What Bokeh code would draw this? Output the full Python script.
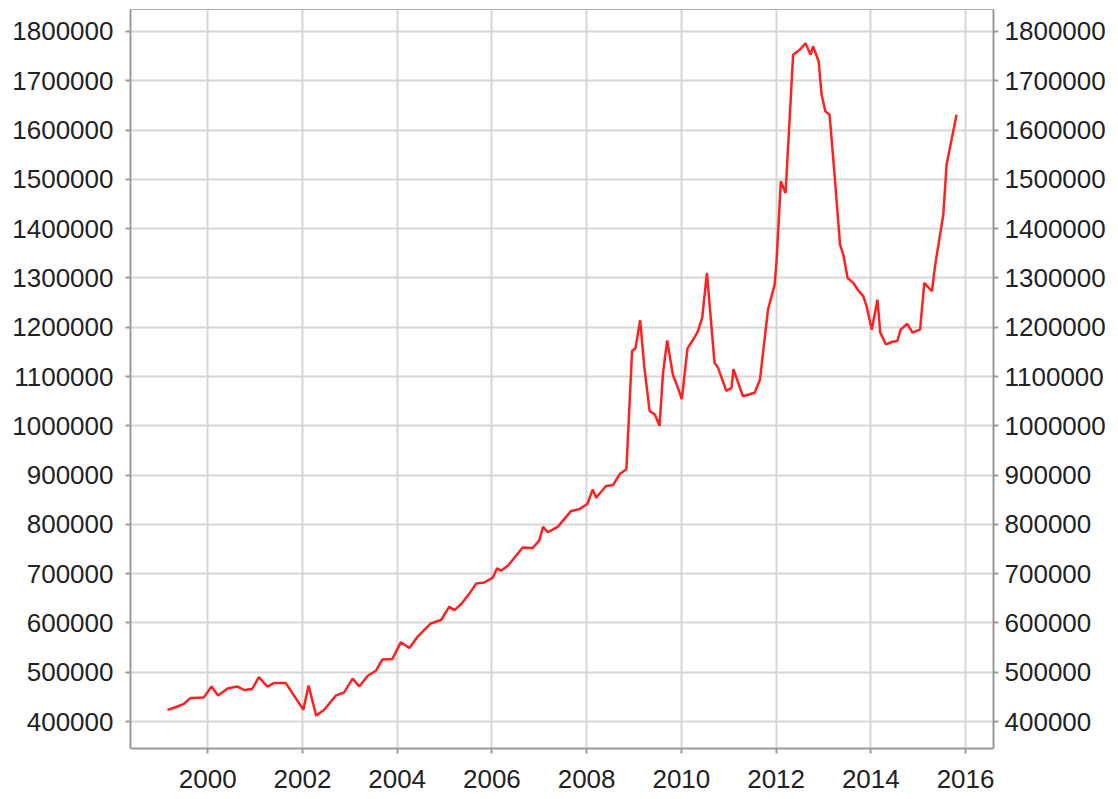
from bokeh.plotting import figure
from bokeh.models import Range1d, LinearAxis, FixedTicker, NumeralTickFormatter
from bokeh.embed import file_html
from bokeh.resources import INLINE

# decimal year of each visible vertex of the series
years = [1999.15, 1999.32, 1999.50, 1999.64, 1999.92, 2000.08, 2000.22, 2000.42, 2000.63, 2000.77,
         2000.94, 2001.08, 2001.26, 2001.40, 2001.65, 2002.02, 2002.13, 2002.29, 2002.46, 2002.71,
         2002.88, 2003.06, 2003.20, 2003.38, 2003.55, 2003.69, 2003.90, 2004.08, 2004.26, 2004.43,
         2004.71, 2004.93, 2005.10, 2005.21, 2005.35, 2005.52, 2005.67, 2005.84, 2006.02, 2006.11,
         2006.19, 2006.34, 2006.65, 2006.86, 2007.00, 2007.08, 2007.18, 2007.39, 2007.67, 2007.85,
         2008.02, 2008.13, 2008.20, 2008.41, 2008.56, 2008.70, 2008.84, 2008.96, 2009.03, 2009.13,
         2009.22, 2009.33, 2009.44, 2009.54, 2009.61, 2009.70, 2009.82, 2009.92, 2010.01, 2010.13,
         2010.25, 2010.35, 2010.44, 2010.54, 2010.70, 2010.77, 2010.95, 2011.06, 2011.10, 2011.30,
         2011.44, 2011.55, 2011.66, 2011.83, 2011.97, 2012.01, 2012.10, 2012.20, 2012.36, 2012.50,
         2012.62, 2012.73, 2012.78, 2012.90, 2012.96, 2013.04, 2013.13, 2013.24, 2013.35, 2013.42,
         2013.51, 2013.63, 2013.74, 2013.84, 2013.91, 2014.02, 2014.14, 2014.20, 2014.32, 2014.44,
         2014.56, 2014.63, 2014.77, 2014.88, 2015.04, 2015.13, 2015.29, 2015.36, 2015.53, 2015.60,
         2015.81]

values = [423700, 429000, 436000, 448000, 449000, 471000, 453000, 467000, 471000, 464000,
          466000, 490000, 471000, 478000, 478000, 424000, 473000, 412000, 424000, 453000,
          459000, 487000, 471000, 493000, 503000, 526000, 527000, 561000, 549000, 572000,
          599000, 606000, 633000, 626000, 638000, 659000, 680000, 682000, 692000, 711000,
          706000, 716000, 753000, 752000, 767000, 795000, 784000, 795000, 827000, 831000,
          842000, 871000, 854000, 878000, 880000, 902000, 912000, 1152000, 1157000, 1214000,
          1118000, 1030000, 1023000, 1000000, 1104000, 1173000, 1104000, 1079000, 1054000, 1157000,
          1175000, 1192000, 1219000, 1310000, 1128000, 1119000, 1071000, 1077000, 1115000, 1060000,
          1064000, 1067000, 1094000, 1236000, 1287000, 1334000, 1496000, 1472000, 1753000, 1763000,
          1776000, 1753000, 1770000, 1739000, 1672000, 1638000, 1631000, 1503000, 1368000, 1347000,
          1300000, 1290000, 1274000, 1263000, 1243000, 1195000, 1256000, 1189000, 1165000, 1170000,
          1172000, 1195000, 1207000, 1189000, 1195000, 1290000, 1273000, 1327000, 1428000, 1530000,
          1631000]

x_ticks = [2000, 2002, 2004, 2006, 2008, 2010, 2012, 2014, 2016]
y_ticks = [400000, 500000, 600000, 700000, 800000, 900000, 1000000, 1100000, 1200000,
           1300000, 1400000, 1500000, 1600000, 1700000, 1800000]

FONT = "Liberation Sans"
TEXT = "#222222"
AXIS = "#9a9a9a"

p = figure(frame_width=863, frame_height=739, output_backend="svg", toolbar_location=None,
           x_range=Range1d(1998.37, 2016.59), y_range=Range1d(345300, 1844600),
           min_border_left=130, min_border_right=116, min_border_top=9, min_border_bottom=48)
p.outline_line_color = "#b0b0b0"
p.outline_line_width = 1
p.background_fill_color = "white"
p.border_fill_color = "white"

p.xgrid.ticker = FixedTicker(ticks=x_ticks)
p.ygrid.ticker = FixedTicker(ticks=y_ticks)
p.xgrid.grid_line_color = "#d6d6d6"
p.ygrid.grid_line_color = "#d6d6d6"
p.xgrid.grid_line_width = 2
p.ygrid.grid_line_width = 2

p.line(years, values, line_color="#ff2020", line_width=2.5)

right = LinearAxis()
p.add_layout(right, "right")

for ax in p.yaxis:
    ax.ticker = FixedTicker(ticks=y_ticks)
    ax.formatter = NumeralTickFormatter(format="0")
for ax in p.xaxis:
    ax.ticker = FixedTicker(ticks=x_ticks)
    ax.formatter = NumeralTickFormatter(format="0")

for ax in list(p.xaxis) + list(p.yaxis):
    ax.axis_line_color = AXIS
    ax.axis_line_width = 2
    ax.major_tick_line_color = AXIS
    ax.major_tick_line_width = 2
    ax.major_tick_out = 5
    ax.major_tick_in = 0
    ax.minor_tick_line_color = None
    ax.major_label_text_font = FONT
    ax.major_label_text_font_size = "26px"
    ax.major_label_text_color = TEXT

p.yaxis[0].major_label_standoff = 12
right.major_label_standoff = 6
p.xaxis.major_label_standoff = 16

open("out.html", "w").write(file_html(p, INLINE))
